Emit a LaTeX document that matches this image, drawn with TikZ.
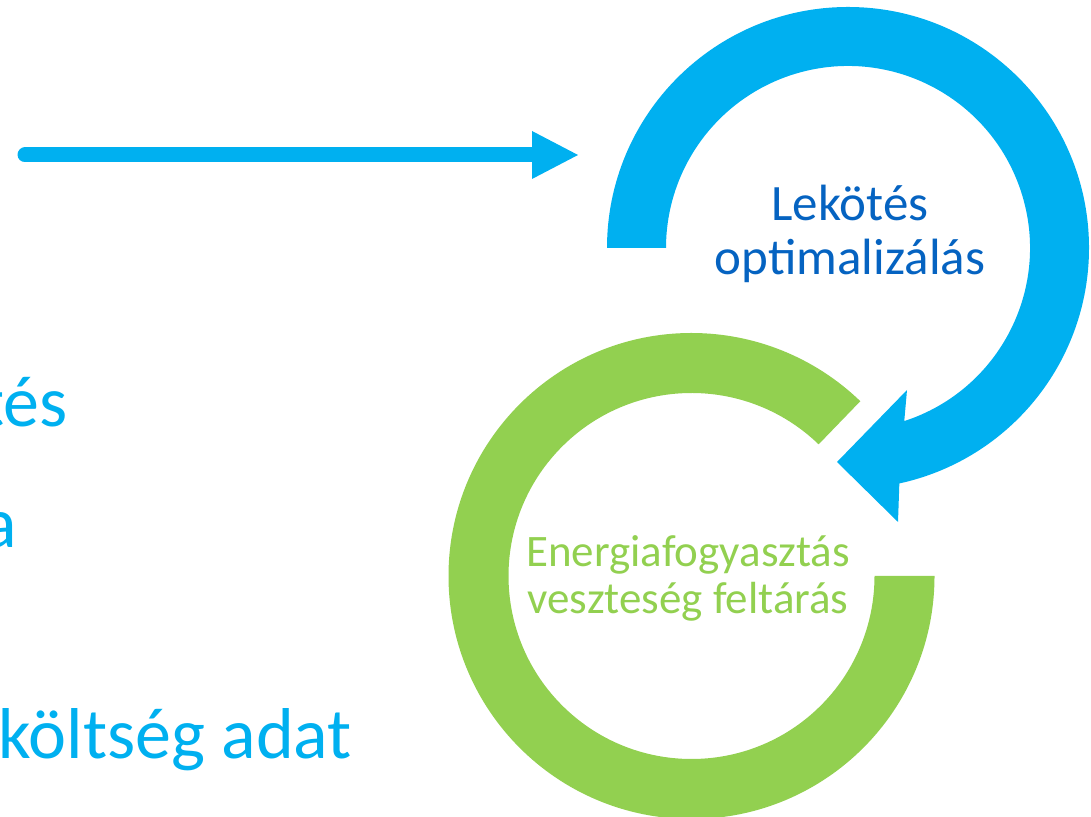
\documentclass[tikz,border=0pt]{standalone}
\usepackage{fontspec}
\setmainfont{Carlito}
\usetikzlibrary{calc}
\definecolor{lblue}{HTML}{00B0F0}
\definecolor{lgreen}{HTML}{92D050}
\definecolor{dblue}{HTML}{0563C1}
\begin{document}
\begin{tikzpicture}[x=1pt,y=1pt,
  lefttext/.style={anchor=base east, text=lblue, inner sep=0pt, font=\fontsize{72}{86}\selectfont},
  bluetext/.style={anchor=base, text=dblue, inner sep=0pt, font=\fontsize{51}{60}\selectfont},
  greentext/.style={anchor=base, text=lgreen, inner sep=0pt, font=\fontsize{45}{54}\selectfont},
  shaft/.style={draw=lblue, line width=15pt, line cap=round},
  headfill/.style={fill=lblue}]
\useasboundingbox (0,0) rectangle (1091,816);
% straight arrow
\coordinate (s0) at (25,661);
\coordinate (s1) at (532,661);
\coordinate (tip) at (578,661);
\coordinate (hu) at (532,685);
\coordinate (hl) at (532,637);
\draw[shaft] (s0) -- (s1);
\fill[headfill] (hu) -- (tip) -- (hl) -- cycle;
% blue circular arrow
\coordinate (bc) at (848,568);
\coordinate (bbarbl) at (898,294);
\coordinate (btip) at (837,354);
\coordinate (bbarbu) at (907,426);
\fill[lblue] ($(bc)+(180:241)$) arc[start angle=180,end angle=-77.7,radius=241pt]
  -- (bbarbl) -- (btip) -- (bbarbu)
  -- ($(bc)+(-72:182)$) arc[start angle=-72,end angle=180,radius=182pt] -- cycle;
% green ring
\coordinate (gc) at (691.5,240);
\fill[lgreen] ($(gc)+(0:243)$) arc[start angle=0,end angle=-314,radius=243pt]
  -- ($(gc)+(46:183)$) arc[start angle=46,end angle=360,radius=183pt] -- cycle;
% texts
\node[bluetext] (lek1) at (850,595) {Lekötés};
\node[bluetext] (lek2) at (850,541) {optimalizálás};
\node[greentext] (en1) at (688,249) {Energiafogyasztás};
\node[greentext] (en2) at (688,202) {veszteség feltárás};
\node[lefttext] (l1) at (68,389) {tés};
\node[lefttext] (l2) at (17,268) {a};
\node[lefttext] (l3) at (352,58) {költség adat};
\end{tikzpicture}
\end{document}
